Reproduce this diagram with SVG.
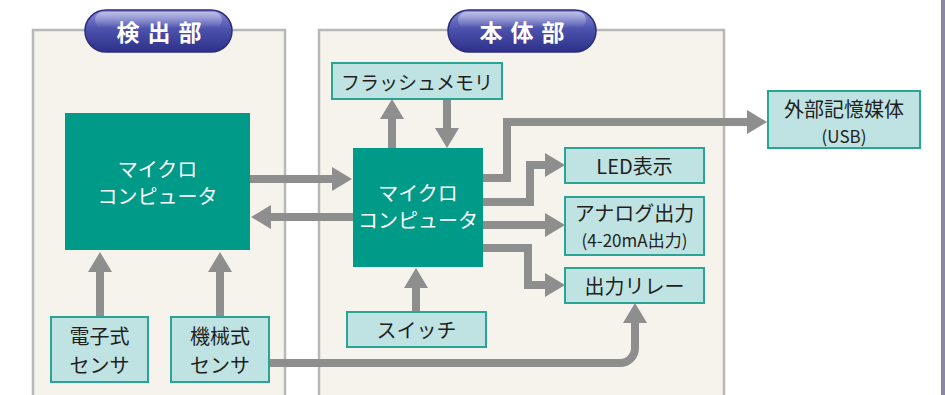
<svg xmlns="http://www.w3.org/2000/svg" width="945" height="395" viewBox="0 0 945 395">
<defs>
<linearGradient id="pill" x1="0" y1="0" x2="0" y2="1">
<stop offset="0" stop-color="#8a8fd8"/>
<stop offset="0.45" stop-color="#4d52ad"/>
<stop offset="1" stop-color="#2c3088"/>
</linearGradient>
<linearGradient id="shine" x1="0" y1="0" x2="0" y2="1">
<stop offset="0" stop-color="#ffffff" stop-opacity="0.45"/>
<stop offset="1" stop-color="#ffffff" stop-opacity="0"/>
</linearGradient>
<marker id="ah" viewBox="0 0 20 24" refX="2" refY="12" markerWidth="20" markerHeight="24" markerUnits="userSpaceOnUse" orient="auto">
<path d="M0,0 L20,12 L0,24 Z" fill="#8e8e8e"/>
</marker>
<style>
.panel{fill:#f6f3ec;stroke:#b8b8b8;stroke-width:2.5}
.mc{fill:#009a89}
.lb{fill:#bfe3e3;stroke:#2aa593;stroke-width:2}
.t{font-family:"Noto Sans CJK JP","Noto Sans",sans-serif;fill:#231f20;text-anchor:middle;dominant-baseline:central}
.w{fill:#ffffff}
.s{font-size:17px}
.ttl{font-family:"Noto Sans CJK JP","Noto Sans",sans-serif;fill:#ffffff;font-weight:bold;font-size:23px;letter-spacing:8px;text-anchor:middle;dominant-baseline:central}
.c{fill:none;stroke:#8e8e8e;stroke-width:8;stroke-linejoin:miter}
.a{marker-end:url(#ah)}
</style>
</defs>
<rect x="0" y="0" width="945" height="395" fill="#ffffff"/>
<rect x="941" y="0" width="4" height="395" fill="#8888a6"/>
<g id="panel-detect">
<rect class="panel" x="33" y="30" width="252" height="375"/>
<rect x="85" y="10" width="147" height="42" rx="21" fill="url(#pill)" stroke="#2a2d7a" stroke-width="1.5"/>
<rect x="95" y="12" width="127" height="16" rx="8" fill="url(#shine)"/>
<text class="ttl" x="163" y="31">検出部</text>
</g>
<g id="panel-main">
<rect class="panel" x="319" y="30" width="405" height="375"/>
<rect x="448" y="10" width="148" height="42" rx="21" fill="url(#pill)" stroke="#2a2d7a" stroke-width="1.5"/>
<rect x="458" y="12" width="128" height="16" rx="8" fill="url(#shine)"/>
<text class="ttl" x="526" y="31">本体部</text>
</g>
<g id="connectors">
<path class="c a" d="M100,317 V270"/>
<path class="c a" d="M220,317 V270"/>
<path class="c a" d="M250,179 H334"/>
<path class="c a" d="M353,217 H269"/>
<path class="c a" d="M392,148 V117"/>
<path class="c a" d="M447,99 V130"/>
<path class="c a" d="M483,178 H507 V122 H749"/>
<path class="c a" d="M483,202 H530 V165 H547"/>
<path class="c a" d="M483,225 H547"/>
<path class="c a" d="M483,248 H528 V285 H547"/>
<path class="c a" d="M416,312 V286"/>
<path class="c a" d="M269,363 H620 A15,15 0 0 0 635,348 V321"/>
</g>
<g id="mc-detect">
<rect class="mc" x="65" y="113" width="185" height="137"/>
<text class="t w" font-size="20"><tspan x="157.5" y="168">マイクロ</tspan><tspan x="157.5" y="195">コンピュータ</tspan></text>
</g>
<g id="sensor-electronic">
<rect class="lb" x="51" y="317" width="97" height="65"/>
<text class="t" font-size="20"><tspan x="99.5" y="335">電子式</tspan><tspan x="99.5" y="364">センサ</tspan></text>
</g>
<g id="sensor-mechanical">
<rect class="lb" x="171" y="317" width="98" height="65"/>
<text class="t" font-size="20"><tspan x="220" y="335">機械式</tspan><tspan x="220" y="364">センサ</tspan></text>
</g>
<g id="flash">
<rect class="lb" x="332" y="63" width="170" height="36"/>
<text class="t" x="417" y="81" font-size="19">フラッシュメモリ</text>
</g>
<g id="mc-main">
<rect class="mc" x="353" y="148" width="130" height="119"/>
<text class="t w" font-size="20"><tspan x="418" y="192">マイクロ</tspan><tspan x="418" y="219">コンピュータ</tspan></text>
</g>
<g id="switch">
<rect class="lb" x="347" y="312" width="139" height="35"/>
<text class="t" x="416.5" y="329.5" font-size="20">スイッチ</text>
</g>
<g id="led">
<rect class="lb" x="565" y="148" width="139" height="35"/>
<text class="t" x="634.5" y="165.5" font-size="20">LED表示</text>
</g>
<g id="analog">
<rect class="lb" x="565" y="197" width="139" height="58"/>
<text class="t" font-size="20"><tspan x="634.5" y="212">アナログ出力</tspan><tspan class="s" x="634.5" y="239">(4-20mA出力)</tspan></text>
</g>
<g id="relay">
<rect class="lb" x="565" y="268" width="139" height="35"/>
<text class="t" x="634.5" y="285.5" font-size="20">出力リレー</text>
</g>
<g id="usb">
<rect class="lb" x="768" y="91" width="152" height="57"/>
<text class="t" font-size="20"><tspan x="844" y="108">外部記憶媒体</tspan><tspan class="s" x="844" y="135">(USB)</tspan></text>
</g>
</svg>
